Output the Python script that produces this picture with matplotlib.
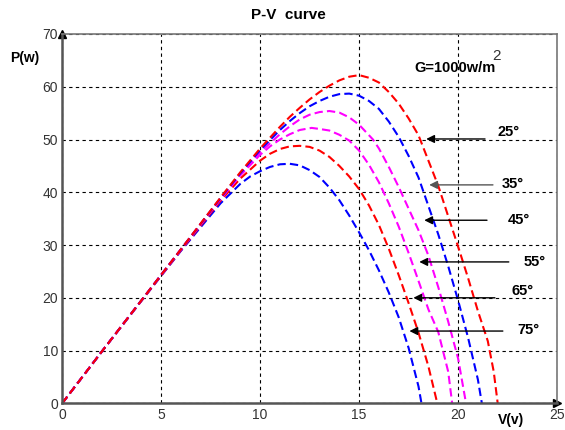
import matplotlib
matplotlib.use('Agg')
from matplotlib import pyplot as plt

plt.rcParams['font.family'] = ['Liberation Sans', 'DejaVu Sans']

# P-V curves, one per cell temperature
temps = [25, 35, 45, 55, 65, 75]

v_25 = [0, 2, 4, 6, 8, 9, 10, 11, 11.5, 12, 12.5, 13, 13.5, 14, 14.5, 15, 15.5, 16, 16.5, 17, 17.5, 18,
        19, 20, 20.5, 21, 21.5, 21.8, 22.0]
p_25 = [0, 9.8, 19.5, 29.2, 39.0, 43.8, 48.3, 52.4, 54.3, 56.0, 57.6, 59.0, 60.2, 61.2, 61.9, 62.2, 61.7, 60.8, 59.0, 56.8, 54.0, 50.8,
        41.2, 29.7, 23.8, 17.5, 11.8, 6.0, 0]

v_35 = [0, 2, 4, 6, 8, 9, 10, 11, 11.5, 12, 12.5, 13, 13.5, 14, 14.5, 15, 15.5, 16, 16.5, 17, 17.5, 18,
        19, 19.5, 20, 20.5, 21, 21.2]
p_35 = [0, 9.8, 19.5, 29.2, 38.9, 43.6, 48.0, 51.8, 53.5, 55.0, 56.3, 57.3, 58.1, 58.6, 58.7, 58.3, 57.3, 55.8, 53.4, 50.5, 46.9, 42.8,
        32.0, 26.0, 19.5, 12.5, 4.5, 0]

v_45 = [0, 2, 4, 6, 8, 9, 10, 11, 11.5, 12, 12.5, 13, 13.5, 14, 14.5, 15, 15.7, 16, 16.5, 17,
        18, 18.5, 19, 19.5, 20, 20.4]
p_45 = [0, 9.8, 19.5, 29.2, 38.8, 43.4, 47.6, 51.0, 52.5, 53.8, 54.7, 55.2, 55.4, 55.1, 54.2, 52.8, 50.0, 48.3, 44.8, 41.0,
        32.8, 28.0, 22.0, 15.5, 8.5, 0]

v_55 = [0, 2, 4, 6, 8, 9, 10, 10.5, 11, 11.5, 12, 12.6, 13, 13.5, 14, 14.5, 15, 15.5, 16, 16.5, 17,
        17.5, 18, 18.5, 19, 19.5, 19.7]
p_55 = [0, 9.8, 19.5, 29.1, 38.7, 43.2, 47.1, 48.7, 50.0, 51.0, 51.8, 52.2, 52.0, 51.7, 50.9, 49.8, 47.9, 45.2, 41.9, 37.9, 33.5,
        28.5, 23.2, 17.8, 13.5, 6.0, 0]

v_65 = [0, 2, 4, 6, 8, 9, 10, 10.5, 11, 11.5, 12, 12.5, 13, 13.5, 14, 14.5, 15, 15.5, 16, 16.5, 17,
        17.5, 18, 18.5, 18.95]
p_65 = [0, 9.8, 19.4, 29.0, 38.4, 42.6, 46.0, 47.3, 48.2, 48.7, 48.8, 48.6, 47.9, 46.7, 45.0, 43.0, 40.6, 37.5, 33.8, 29.3, 24.3,
        19.0, 13.4, 7.0, 0]

v_75 = [0, 2, 4, 6, 8, 9, 9.5, 10, 10.5, 11, 11.5, 12, 12.5, 13, 13.5, 14, 14.5, 15, 15.5, 16, 16.5,
        17, 17.5, 18, 18.15]
p_75 = [0, 9.8, 19.4, 28.9, 37.9, 41.6, 43.0, 44.0, 44.8, 45.3, 45.4, 45.1, 44.2, 42.9, 40.9, 38.5, 35.6, 32.4, 29.0, 25.2, 21.0,
        16.3, 10.5, 3.2, 0]

curves = [(v_25, p_25, 'red'), (v_35, p_35, 'blue'), (v_45, p_45, 'magenta'),
          (v_55, p_55, 'magenta'), (v_65, p_65, 'red'), (v_75, p_75, 'blue')]

label_text = ['25°', '35°', '45°', '55°', '65°', '75°']

fig = plt.figure(figsize=(5.65, 4.30), dpi=100)
ax = fig.add_axes([0.110, 0.062, 0.876, 0.859])

# draw the coolest curve last so it sits on top, as in the original
for v, p, c in reversed(curves):
    ax.plot(v, p, c=c, lw=1.5, ls=(0, (4, 2)))

# Format the plot
ax.set_xlim(0, 25)
ax.set_ylim(0, 70)
ax.set_xticks([0, 5, 10, 15, 20, 25])
ax.set_yticks(range(0, 71, 10))
ax.grid(True, color='black', ls=(0, (3, 3)), lw=0.8)
ax.tick_params(length=0, labelsize=10, labelcolor='#333333', pad=3)
for side in ['left', 'bottom']:
    ax.spines[side].set_color('#555555')
    ax.spines[side].set_linewidth(1.8)
for side in ['top', 'right']:
    ax.spines[side].set_color('#777777')
    ax.spines[side].set_linewidth(1.2)

# axis arrow heads
ax.plot(1, 0, '>', color='black', ms=6, transform=ax.transAxes, clip_on=False)
ax.plot(0, 1, '^', color='black', ms=6, transform=ax.transAxes, clip_on=False)

# temperature labels with arrows
arrow_y = [50.1, 41.4, 34.7, 26.8, 20.0, 13.7]
arrow_tip = [18.25, 18.4, 18.15, 17.9, 17.6, 17.4]
arrow_tail = [21.5, 21.9, 21.6, 22.7, 22.0, 22.4]
text_pos = [(22.0, 51.4), (22.2, 41.6), (22.5, 34.8), (23.3, 26.8), (22.7, 21.3), (23.0, 13.9)]
for i, lab in enumerate(label_text):
    ax.annotate('', xy=(arrow_tip[i], arrow_y[i]), xytext=(arrow_tail[i], arrow_y[i]),
                arrowprops=dict(arrowstyle='-|>', color='#555555' if i == 1 else 'black',
                                lw=1.0, mutation_scale=12))
    ax.text(text_pos[i][0], text_pos[i][1], lab, fontsize=10.5, fontweight='bold',
            ha='left', va='center')

ax.text(17.8, 63.5, 'G=1000w/m', fontsize=10.5, fontweight='bold', ha='left', va='center')
ax.text(21.75, 65.8, '2', fontsize=11, ha='left', va='center', color='#333333')

fig.text(288 / 565, 1 - 15 / 430, 'P-V  curve', fontsize=11, fontweight='bold',
         ha='center', va='center')
fig.text(25 / 565, 1 - 58 / 430, 'P(w)', fontsize=10, fontweight='bold',
         ha='center', va='center')
fig.text(511 / 565, 1 - 420 / 430, 'V(v)', fontsize=10, fontweight='bold',
         ha='center', va='center')

fig.savefig('out.png', dpi=100)
